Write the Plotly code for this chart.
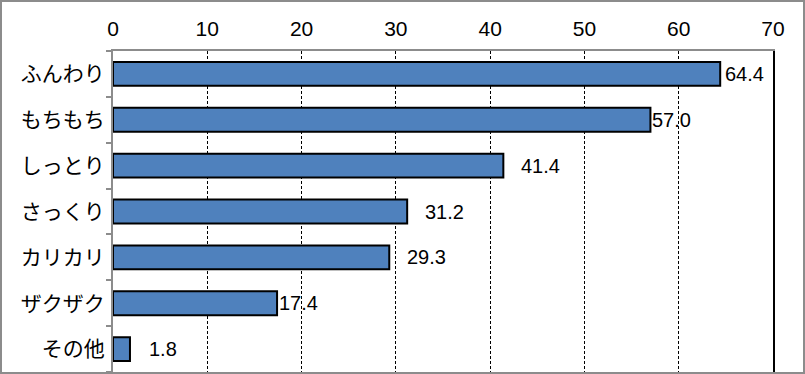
import plotly.graph_objects as go

categories = ["ふんわり", "もちもち", "しっとり", "さっくり", "カリカリ", "ザクザク", "その他"]
values = [64.4, 57.0, 41.4, 31.2, 29.3, 17.4, 1.8]
label_texts = ["64.4", "57.0", "41.4", "31.2", "29.3", "17.4", "1.8"]
label_gaps = [3, 0, 16, 16, 16, 0, 17]
x_ticks = [0, 10, 20, 30, 40, 50, 60, 70]

W, H = 805, 374
L, R, T, B = 113, 32, 51, 2
pw, ph = W - L - R, H - T - B

fig = go.Figure()
fig.add_trace(go.Bar(
    x=values, y=categories, orientation="h",
    marker=dict(color="#4F81BD", line=dict(color="black", width=2)),
    width=0.52,
))
fig.add_trace(go.Scatter(x=[None], y=[None], yaxis="y2", showlegend=False))

annotations = []
for v, c, t, g in zip(values, categories, label_texts, label_gaps):
    annotations.append(dict(x=v, y=c, text=t, showarrow=False, xanchor="left",
                            xshift=g, yshift=0,
                            font=dict(family="Liberation Sans, Arial", size=20, color="black")))

shapes = [dict(type="rect", xref="paper", yref="paper",
               x0=(1 - L) / pw, x1=(W - 1 - L) / pw,
               y0=-1 / ph, y1=(H - 1 - B) / ph,
               line=dict(color="#8c8c8c", width=2), fillcolor="rgba(0,0,0,0)", layer="above")]

fig.update_layout(
    width=W, height=H,
    margin=dict(l=L, r=R, t=T, b=B, autoexpand=False),
    paper_bgcolor="white", plot_bgcolor="white",
    showlegend=False,
    xaxis=dict(range=[0, 70], side="top", tickvals=x_ticks, automargin=False,
               showgrid=True, gridcolor="black", gridwidth=1, griddash="3px,2px",
               showline=True, linecolor="#8c8c8c", linewidth=2,
               ticks="outside", ticklen=5, tickcolor="rgba(0,0,0,0)", zeroline=False,
               tickfont=dict(family="Liberation Sans, Arial", size=21, color="black")),
    yaxis=dict(categoryorder="array", categoryarray=categories[::-1], automargin=False,
               showline=True, linecolor="#8c8c8c", linewidth=2,
               ticks="outside", tickson="boundaries", ticklen=5, tickcolor="#8c8c8c", tickwidth=2,
               ticklabelstandoff=2,
               tickfont=dict(family="Noto Sans CJK JP", size=21, color="black")),
    yaxis2=dict(overlaying="y", side="right", showline=True, linecolor="black", linewidth=2,
                showticklabels=False, showgrid=False, zeroline=False, ticks="", automargin=False),
    annotations=annotations,
    shapes=shapes,
)

fig.write_html("out.html", config={"displayModeBar": False},
               post_script="document.body.style.margin='0';document.body.style.overflow='hidden';")
